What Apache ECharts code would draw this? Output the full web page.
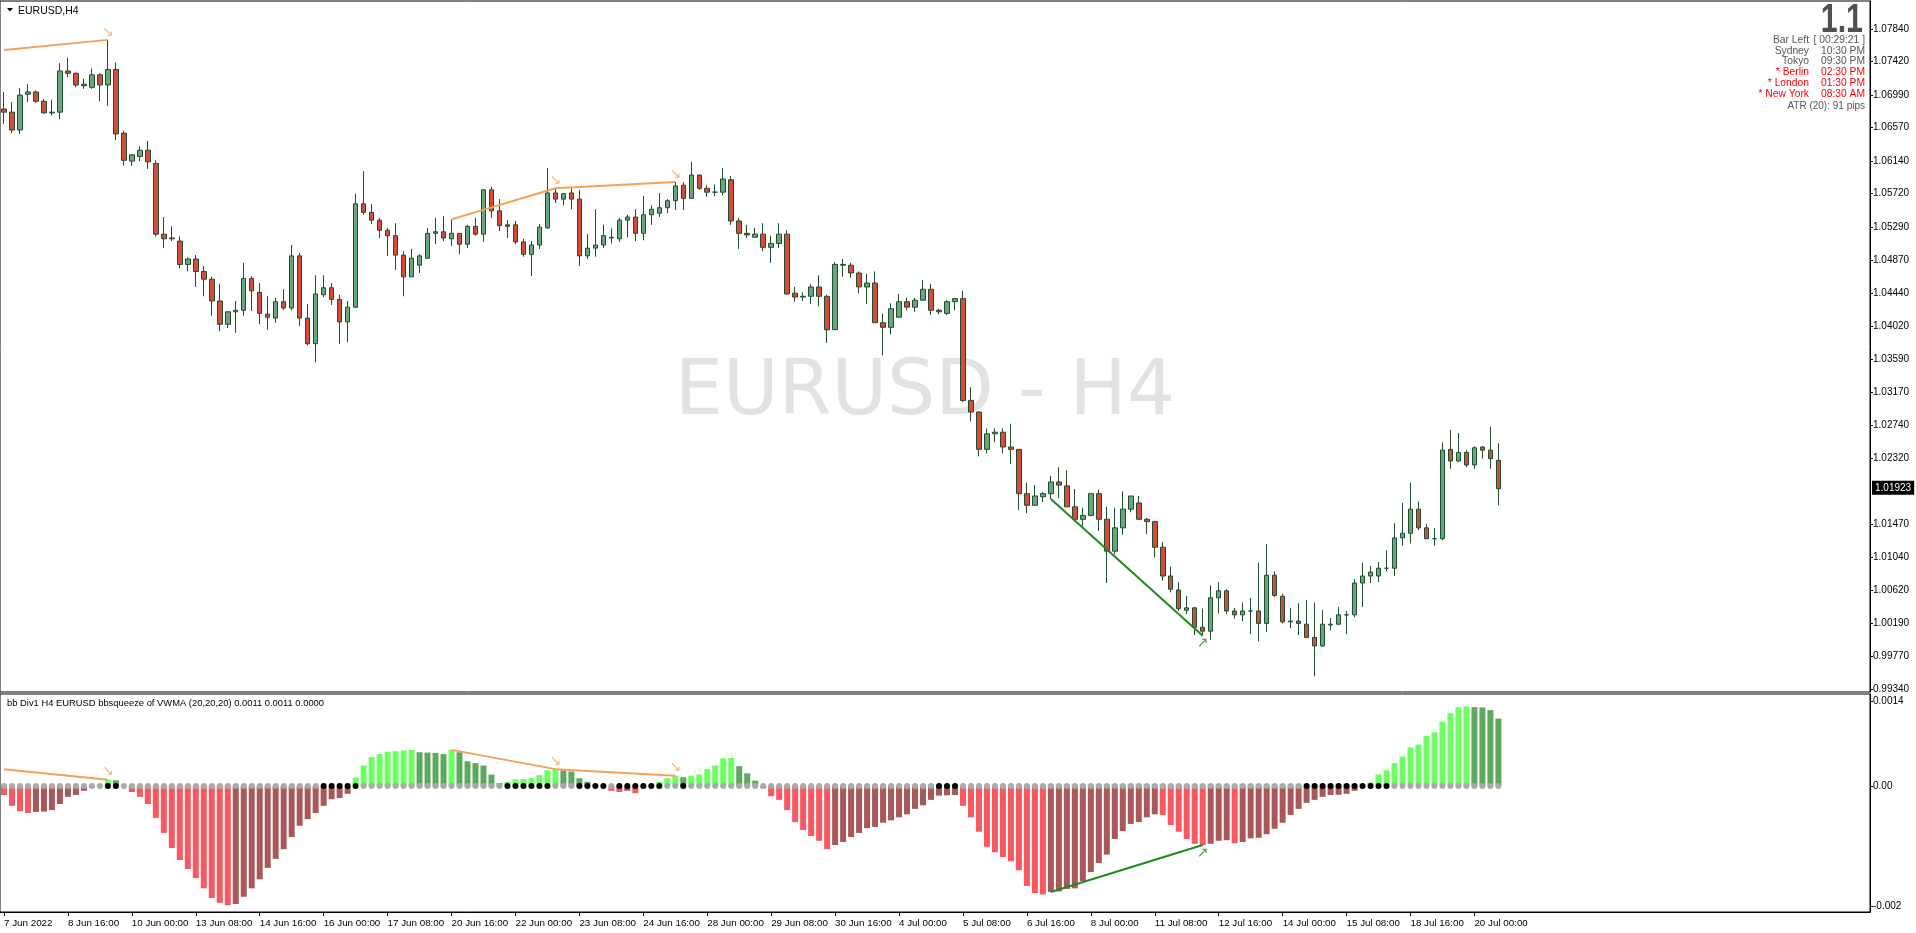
<!DOCTYPE html>
<html><head><meta charset="utf-8">
<script src="https://cdn.jsdelivr.net/npm/echarts@6/dist/echarts.min.js"></script>
<style>html,body{margin:0;padding:0;background:#fff;}#c{width:1916px;height:933px;}</style>
</head><body><div id="c"></div>
<script>
// ---------------- DATA ----------------
const timeLabels = ["7 Jun 2022","8 Jun 16:00","10 Jun 00:00","13 Jun 08:00","14 Jun 16:00","16 Jun 00:00","17 Jun 08:00","20 Jun 16:00","22 Jun 00:00","23 Jun 08:00","24 Jun 16:00","28 Jun 00:00","29 Jun 08:00","30 Jun 16:00","4 Jul 00:00","5 Jul 08:00","6 Jul 16:00","8 Jul 00:00","11 Jul 08:00","12 Jul 16:00","14 Jul 00:00","15 Jul 08:00","18 Jul 16:00","20 Jul 00:00"];
const barsPerLabel = 8;

const opens = [1.0681,1.0677,1.0654,1.0700,1.0703,1.0691,1.0676,1.0677,1.0730,1.0727,
1.0713,1.0709,1.0725,1.0712,1.0732,1.0650,1.0614,1.0620,1.0628,1.0611,
1.0520,1.0515,1.0511,1.0481,1.0488,1.0472,1.0462,1.0434,1.0404,1.0420,
1.0422,1.0463,1.0445,1.0417,1.0412,1.0433,1.0425,1.0492,1.0412,1.0379,
1.0442,1.0451,1.0436,1.0407,1.0426,1.0559,1.0548,1.0538,1.0525,1.0518,
1.0493,1.0465,1.0480,1.0489,1.0521,1.0523,1.0514,1.0521,1.0507,1.0530,
1.0520,1.0577,1.0550,1.0532,1.0532,1.0510,1.0494,1.0506,1.0528,1.0573,
1.0565,1.0573,1.0565,1.0492,1.0502,1.0506,1.0515,1.0514,1.0538,1.0542,
1.0521,1.0545,1.0547,1.0554,1.0563,1.0583,1.0566,1.0596,1.0579,1.0574,
1.0574,1.0590,1.0537,1.0521,1.0516,1.0520,1.0503,1.0508,1.0520,1.0444,
1.0439,1.0440,1.0452,1.0440,1.0397,1.0481,1.0480,1.0470,1.0452,1.0457,
1.0406,1.0400,1.0413,1.0433,1.0426,1.0435,1.0449,1.0422,1.0418,1.0433,
1.0437,1.0306,1.0291,1.0243,1.0263,1.0265,1.0246,1.0243,1.0186,1.0171,
1.0182,1.0186,1.0201,1.0196,1.0169,1.0153,1.0158,1.0186,1.0153,1.0112,
1.0142,1.0166,1.0174,1.0153,1.0150,1.0117,1.0080,1.0062,1.0036,1.0039,
1.0014,1.0009,1.0052,1.0061,1.0035,1.0030,1.0035,1.0035,1.0019,1.0081,
1.0054,1.0021,1.0022,1.0018,1.0001,0.9990,1.0017,1.0018,1.0030,1.0030,
1.0071,1.0080,1.0080,1.0090,1.0090,1.0129,1.0135,1.0166,1.0142,1.0128,
1.0128,1.0243,1.0228,1.0239,1.0223,1.0246,1.0242,1.0229];

const highs = [1.0703,1.0690,1.0708,1.0713,1.0705,1.0694,1.0693,1.0740,1.0747,1.0728,
1.0720,1.0733,1.0727,1.0770,1.0741,1.0653,1.0623,1.0633,1.0640,1.0615,
1.0542,1.0530,1.0517,1.0490,1.0493,1.0479,1.0465,1.0456,1.0421,1.0434,
1.0483,1.0466,1.0457,1.0440,1.0438,1.0449,1.0506,1.0496,1.0430,1.0467,
1.0467,1.0457,1.0442,1.0434,1.0572,1.0601,1.0559,1.0541,1.0528,1.0534,
1.0498,1.0501,1.0494,1.0528,1.0541,1.0543,1.0539,1.0521,1.0532,1.0541,
1.0578,1.0581,1.0565,1.0538,1.0537,1.0514,1.0511,1.0533,1.0605,1.0579,
1.0573,1.0579,1.0577,1.0520,1.0552,1.0532,1.0527,1.0541,1.0545,1.0552,
1.0569,1.0557,1.0573,1.0565,1.0587,1.0587,1.0613,1.0597,1.0583,1.0584,
1.0605,1.0595,1.0541,1.0532,1.0528,1.0534,1.0518,1.0534,1.0525,1.0452,
1.0445,1.0456,1.0467,1.0442,1.0484,1.0488,1.0483,1.0472,1.0469,1.0472,
1.0418,1.0431,1.0443,1.0438,1.0438,1.0461,1.0456,1.0424,1.0435,1.0437,
1.0447,1.0323,1.0292,1.0270,1.0270,1.0270,1.0276,1.0243,1.0200,1.0197,
1.0188,1.0209,1.0220,1.0216,1.0192,1.0168,1.0186,1.0191,1.0169,1.0168,
1.0189,1.0183,1.0183,1.0155,1.0151,1.0124,1.0092,1.0072,1.0054,1.0040,
1.0038,1.0068,1.0072,1.0063,1.0039,1.0046,1.0052,1.0097,1.0121,1.0086,
1.0057,1.0039,1.0045,1.0049,1.0046,1.0036,1.0026,1.0040,1.0035,1.0076,
1.0097,1.0093,1.0098,1.0113,1.0148,1.0174,1.0200,1.0176,1.0147,1.0142,
1.0252,1.0268,1.0264,1.0242,1.0247,1.0247,1.0272,1.0251];

const lows = [1.0662,1.0650,1.0649,1.0690,1.0689,1.0675,1.0673,1.0668,1.0722,1.0709,
1.0707,1.0707,1.0691,1.0685,1.0641,1.0608,1.0608,1.0614,1.0604,1.0517,
1.0502,1.0511,1.0476,1.0472,1.0452,1.0440,1.0415,1.0395,1.0399,1.0393,
1.0415,1.0421,1.0404,1.0397,1.0406,1.0422,1.0422,1.0402,1.0377,1.0355,
1.0439,1.0429,1.0379,1.0381,1.0425,1.0545,1.0533,1.0515,1.0492,1.0474,
1.0440,1.0465,1.0470,1.0488,1.0507,1.0511,1.0505,1.0494,1.0502,1.0518,
1.0510,1.0541,1.0524,1.0515,1.0507,1.0491,1.0466,1.0501,1.0527,1.0560,
1.0557,1.0552,1.0479,1.0488,1.0491,1.0502,1.0508,1.0510,1.0516,1.0511,
1.0512,1.0532,1.0542,1.0547,1.0551,1.0551,1.0566,1.0577,1.0568,1.0569,
1.0570,1.0532,1.0501,1.0515,1.0516,1.0498,1.0483,1.0502,1.0442,1.0433,
1.0434,1.0430,1.0427,1.0380,1.0397,1.0465,1.0464,1.0444,1.0430,1.0406,
1.0364,1.0391,1.0413,1.0422,1.0420,1.0434,1.0416,1.0417,1.0416,1.0422,
1.0304,1.0279,1.0234,1.0238,1.0252,1.0238,1.0224,1.0165,1.0161,1.0171,
1.0175,1.0179,1.0180,1.0169,1.0150,1.0144,1.0157,1.0138,1.0071,1.0108,
1.0133,1.0162,1.0152,1.0134,1.0104,1.0074,1.0059,1.0035,1.0031,1.0004,
1.0003,0.9998,1.0032,1.0031,1.0025,1.0022,1.0005,0.9996,1.0008,1.0053,
1.0019,1.0013,1.0004,1.0000,0.9951,0.9989,1.0010,1.0017,1.0005,1.0027,
1.0040,1.0071,1.0072,1.0086,1.0080,1.0119,1.0122,1.0139,1.0128,1.0119,
1.0126,1.0218,1.0227,1.0220,1.0218,1.0231,1.0218,1.0171];

const closes = [1.0677,1.0654,1.0699,1.0703,1.0691,1.0676,1.0677,1.0730,1.0727,1.0712,
1.0711,1.0725,1.0712,1.0732,1.0649,1.0615,1.0622,1.0628,1.0613,1.0520,
1.0514,1.0514,1.0481,1.0488,1.0472,1.0462,1.0434,1.0404,1.0420,1.0422,
1.0463,1.0447,1.0418,1.0413,1.0433,1.0425,1.0492,1.0412,1.0379,1.0443,
1.0451,1.0436,1.0407,1.0426,1.0559,1.0548,1.0538,1.0525,1.0518,1.0493,
1.0465,1.0489,1.0492,1.0521,1.0523,1.0515,1.0521,1.0507,1.0530,1.0520,
1.0577,1.0550,1.0531,1.0530,1.0510,1.0494,1.0506,1.0529,1.0573,1.0565,
1.0572,1.0565,1.0492,1.0502,1.0506,1.0518,1.0516,1.0538,1.0542,1.0521,
1.0545,1.0552,1.0554,1.0563,1.0582,1.0566,1.0596,1.0579,1.0574,1.0574,
1.0591,1.0537,1.0521,1.0519,1.0520,1.0503,1.0508,1.0520,1.0443,1.0439,
1.0440,1.0452,1.0440,1.0397,1.0481,1.0480,1.0470,1.0452,1.0457,1.0406,
1.0400,1.0424,1.0433,1.0426,1.0435,1.0449,1.0422,1.0420,1.0433,1.0437,
1.0306,1.0291,1.0243,1.0263,1.0265,1.0246,1.0243,1.0186,1.0171,1.0183,
1.0186,1.0201,1.0197,1.0169,1.0153,1.0158,1.0186,1.0153,1.0112,1.0142,
1.0166,1.0183,1.0153,1.0150,1.0117,1.0080,1.0063,1.0038,1.0039,1.0014,
1.0009,1.0052,1.0061,1.0035,1.0030,1.0035,1.0035,1.0019,1.0081,1.0055,
1.0021,1.0022,1.0019,1.0001,0.9990,1.0018,1.0018,1.0030,1.0030,1.0071,
1.0080,1.0085,1.0090,1.0090,1.0129,1.0135,1.0166,1.0142,1.0128,1.0128,
1.0242,1.0228,1.0239,1.0223,1.0245,1.0242,1.0231,1.01923];

const currentPrice = 1.01923;
const priceTicks = [1.0784,1.0742,1.0699,1.0657,1.0614,1.0572,1.0529,1.0487,1.0444,1.0402,1.0359,1.0317,1.0274,1.0232,1.0147,1.0104,1.0062,1.0019,0.9977,0.9934];

// bbsqueeze histogram
const hist = [-1.5e-4,-3.3e-4,-4.2e-4,-4.5e-4,-4.3e-4,-4.25e-4,-4.0e-4,-3.0e-4,-1.8e-4,-1.5e-4,
-0.8e-4,-0.3e-4,0.3e-4,1.05e-4,0.95e-4,0.2e-4,-1.0e-4,-1.8e-4,-3.0e-4,-5.3e-4,
-7.8e-4,-10.3e-4,-12.3e-4,-13.8e-4,-15.3e-4,-17.0e-4,-18.6e-4,-19.4e-4,-19.8e-4,-19.6e-4,
-18.4e-4,-17.0e-4,-15.5e-4,-13.6e-4,-12.1e-4,-10.5e-4,-8.5e-4,-6.6e-4,-5.5e-4,-4.5e-4,
-3.3e-4,-2.2e-4,-2.0e-4,-1.3e-4,1.4e-4,3.4e-4,4.8e-4,5.3e-4,5.7e-4,5.8e-4,
5.9e-4,6.0e-4,5.6e-4,5.55e-4,5.5e-4,5.3e-4,6.0e-4,5.6e-4,4.1e-4,3.8e-4,
3.4e-4,1.9e-4,0.5e-4,0.7e-4,1.1e-4,1.15e-4,1.3e-4,1.8e-4,2.6e-4,2.8e-4,
2.6e-4,2.4e-4,1.3e-4,0.7e-4,0.2e-4,0.05e-4,-0.8e-4,-1.0e-4,-0.8e-4,-1.2e-4,
-0.2e-4,0.1e-4,0.7e-4,1.3e-4,1.7e-4,1.45e-4,1.7e-4,1.9e-4,2.8e-4,3.4e-4,
4.6e-4,4.65e-4,3.3e-4,2.1e-4,0.9e-4,-0.4e-4,-1.7e-4,-2.3e-4,-4.0e-4,-6.0e-4,
-7.3e-4,-8.3e-4,-9.1e-4,-10.5e-4,-9.8e-4,-9.3e-4,-8.5e-4,-7.8e-4,-7.0e-4,-6.8e-4,
-6.1e-4,-5.7e-4,-5.2e-4,-4.7e-4,-3.8e-4,-3.2e-4,-2.3e-4,-1.6e-4,-1.55e-4,-1.5e-4,
-3.3e-4,-5.2e-4,-7.6e-4,-10.1e-4,-11.0e-4,-11.8e-4,-12.5e-4,-14.0e-4,-16.6e-4,-17.8e-4,
-18.0e-4,-17.6e-4,-17.5e-4,-17.1e-4,-17.0e-4,-15.8e-4,-14.3e-4,-12.8e-4,-11.4e-4,-8.8e-4,
-7.5e-4,-6.3e-4,-6.0e-4,-5.2e-4,-4.7e-4,-4.8e-4,-6.5e-4,-7.6e-4,-8.8e-4,-9.6e-4,
-9.8e-4,-9.6e-4,-9.1e-4,-9.0e-4,-9.5e-4,-9.3e-4,-8.7e-4,-8.6e-4,-8.0e-4,-7.1e-4,
-6.1e-4,-4.8e-4,-3.8e-4,-2.8e-4,-2.3e-4,-1.8e-4,-1.5e-4,-1.45e-4,-1.3e-4,-0.8e-4,
-0.1e-4,0.6e-4,1.9e-4,2.6e-4,3.8e-4,4.9e-4,6.4e-4,6.9e-4,8.3e-4,8.9e-4,
10.7e-4,12.1e-4,13.1e-4,13.2e-4,13.1e-4,13.05e-4,12.6e-4,11.2e-4];
// squeeze-on bar ranges (black dots)
const squeezeRanges = [[13,14],[40,44],[63,68],[72,75],[77,82],[85,85],[117,119],[163,173]];
const indTicks = [0.0014, 0, -0.002];

// divergence lines [barIndex, value]
const mainBearDivs = [[[0,1.0757],[13,1.0770]], [[56,1.0539],[69,1.0579]], [[69,1.0579],[84,1.0587]]];
const mainBullDivs = [[[131,1.0179],[150,1.0003]]];
const indBearDivs = [[[0,2.8e-4],[13,1.05e-4]], [[56,6.0e-4],[69,2.8e-4]], [[69,2.8e-4],[84,1.7e-4]]];
const indBullDivs = [[[131,-17.6e-4],[150,-9.8e-4]]];

// ---------------- CHART ----------------
const FONT = '"Liberation Sans", Arial, sans-serif';
const nSlots = 234;
const cats = Array.from({length: nSlots}, (_, i) => String(i));
const nBars = opens.length;
const candleData = opens.map((o, i) => [o, closes[i], lows[i], highs[i]]);
const squeeze = new Array(nBars).fill(0);
squeezeRanges.forEach(([a, b]) => { for (let i = a; i <= b; i++) squeeze[i] = 1; });

const BR_G = '#6bff63', DK_G = '#5fa85f', BR_R = '#fa5860', DK_R = '#a85858';
function histColor(i) {
  const v = hist[i], p = i > 0 ? hist[i - 1] : 0;
  if (v >= 0) return v > p ? BR_G : DK_G;
  return v < p ? BR_R : DK_R;
}
const ORANGE = '#f5a05a', GREEN = '#1f8a1f';
const labelInterval = (idx) => idx % barsPerLabel === 0 && idx / barsPerLabel < timeLabels.length;

const series = [];
series.push({
  type: 'candlestick', xAxisIndex: 0, yAxisIndex: 0, data: candleData, barWidth: 5, z: 3,
  itemStyle: { color: '#68a67d', color0: '#d64b3c', borderColor: '#214d2f', borderColor0: '#214d2f', borderWidth: 1 },
  markLine: {
    silent: true, symbol: ['none', 'none'], animation: false,
    lineStyle: { color: 'rgba(0,0,0,0)', width: 0 },
    data: [{ yAxis: currentPrice }],
    label: { show: true, position: 'end', distance: 2, offset: [0, 5], formatter: currentPrice.toFixed(5), color: '#fff',
      backgroundColor: '#000', padding: [2, 3, 2, 3], fontSize: 10, fontFamily: FONT }
  }
});
function addLines(list, color, xi, yi) {
  list.forEach(d => series.push({ type: 'line', xAxisIndex: xi, yAxisIndex: yi, data: d, symbol: 'none',
    lineStyle: { color: color, width: 2 }, z: 5, silent: true }));
}
addLines(mainBearDivs, ORANGE, 0, 0);
addLines(mainBullDivs, GREEN, 0, 0);
addLines(indBearDivs, ORANGE, 1, 1);
addLines(indBullDivs, GREEN, 1, 1);
function addArrows(list, ch, color, pos, xi, yi) {
  series.push({ type: 'scatter', xAxisIndex: xi, yAxisIndex: yi, symbolSize: 0, z: 6, silent: true,
    data: list.map(d => d[1]),
    label: { show: true, formatter: ch, position: pos, distance: 1, color: color, fontSize: 14, fontFamily: 'DejaVu Sans' } });
}
addArrows(mainBearDivs, '↘', ORANGE, 'top', 0, 0);
addArrows(mainBullDivs, '↗', GREEN, 'bottom', 0, 0);
addArrows(indBearDivs, '↘', ORANGE, 'top', 1, 1);
addArrows(indBullDivs, '↗', GREEN, 'bottom', 1, 1);

series.push({ type: 'bar', xAxisIndex: 1, yAxisIndex: 1, data: hist, barWidth: 6, z: 2,
  itemStyle: { color: p => histColor(p.dataIndex) } });
series.push({ type: 'scatter', xAxisIndex: 1, yAxisIndex: 1, data: hist.map(() => 0), symbolSize: 6, z: 4,
  itemStyle: { color: p => squeeze[p.dataIndex] ? '#000' : '#aaaaaa', opacity: 1 } });

const txt = (text, x, y, opts) => Object.assign({ type: 'text', x: x, y: y, silent: true,
  style: Object.assign({ text: text, fill: '#555', font: '10px ' + FONT, textAlign: 'right', textVerticalAlign: 'middle' }, opts || {}) });

const panelRows = [["Bar Left", "[ 00:29:21 ]", '#555'], ["Sydney", "10:30 PM", '#555'], ["Tokyo", "09:30 PM", '#555'],
  ["* Berlin", "02:30 PM", '#ff0000'], ["* London", "01:30 PM", '#ff0000'], ["* New York", "08:30 AM", '#ff0000']];
const bigText = txt('1.1', 0, 0, { fill: '#505050', font: 'bold 40px ' + FONT });
bigText.x = 1863; bigText.y = 21; bigText.scaleX = 0.76;
const graphics = [
  { type: 'text', x: 925, y: 394, z: 0, silent: true, style: { text: 'EURUSD - H4', fill: '#e2e2e2', font: '76px "DejaVu Sans"', textAlign: 'center', textVerticalAlign: 'middle' } },
  { type: 'polygon', shape: { points: [[7, 8], [13, 8], [10, 11.5]] }, style: { fill: '#000' } },
  txt('EURUSD,H4', 18, 11, { fill: '#000', textAlign: 'left', font: '10.5px ' + FONT }),
  txt('bb Div1 H4 EURUSD bbsqueeze of VWMA (20,20,20) 0.0011 0.0011 0.0000', 7, 703, { fill: '#000', textAlign: 'left', font: '9.4px ' + FONT }),
  bigText,
  txt('ATR (20): 91 pips', 1865, 106, {})
];
panelRows.forEach((r, k) => {
  const y = 40 + k * 10.8;
  graphics.push(txt(r[0], 1809, y, { fill: r[2], font: '10.3px ' + FONT }));
  graphics.push(txt(r[1], 1865, y, { fill: r[2], font: '10.3px ' + FONT }));
});

const option = {
  animation: false,
  backgroundColor: '#fff',
  textStyle: { fontFamily: FONT },
  grid: [
    { left: 0, top: 1, width: 1870, height: 691, show: true, borderColor: '#000', borderWidth: 1 },
    { left: 0, top: 694, width: 1870, height: 218, show: true, borderColor: '#000', borderWidth: 1 }
  ],
  xAxis: [
    { type: 'category', gridIndex: 0, data: cats, axisLine: { show: false, onZero: false }, axisTick: { show: false }, axisLabel: { show: false }, splitLine: { show: false } },
    { type: 'category', gridIndex: 1, data: cats, position: 'bottom', axisLine: { show: true, onZero: false, lineStyle: { color: '#000' } },
      axisTick: { show: true, alignWithLabel: true, interval: labelInterval, length: 4, lineStyle: { color: '#000' } },
      axisLabel: { interval: labelInterval, align: 'left', margin: 6, fontSize: 9.8, color: '#000', fontFamily: FONT,
        formatter: (v, idx) => timeLabels[idx / barsPerLabel] || '' },
      splitLine: { show: false } }
  ],
  yAxis: [
    { type: 'value', gridIndex: 0, position: 'right', min: 0.993072, max: 1.082003, splitLine: { show: false },
      axisLine: { show: true, lineStyle: { color: '#000' } },
      axisTick: { show: true, length: 3, lineStyle: { color: '#000' }, customValues: priceTicks },
      axisLabel: { customValues: priceTicks, formatter: v => v.toFixed(5), margin: 3, fontSize: 10, color: '#000', fontFamily: FONT } },
    { type: 'value', gridIndex: 1, position: 'right', min: -0.002093, max: 0.001528, splitLine: { show: false },
      axisLine: { show: true, lineStyle: { color: '#000' } },
      axisTick: { show: true, length: 3, lineStyle: { color: '#000' }, customValues: indTicks },
      axisLabel: { customValues: indTicks, margin: 3, fontSize: 10, color: '#000', fontFamily: FONT,
        formatter: v => v === 0 ? '0.00' : (v > 0 ? v.toFixed(4) : v.toFixed(3)) } }
  ],
  graphic: graphics,
  series: series
};
const chart = echarts.init(document.getElementById('c'));
chart.setOption(option);
</script></body></html>
